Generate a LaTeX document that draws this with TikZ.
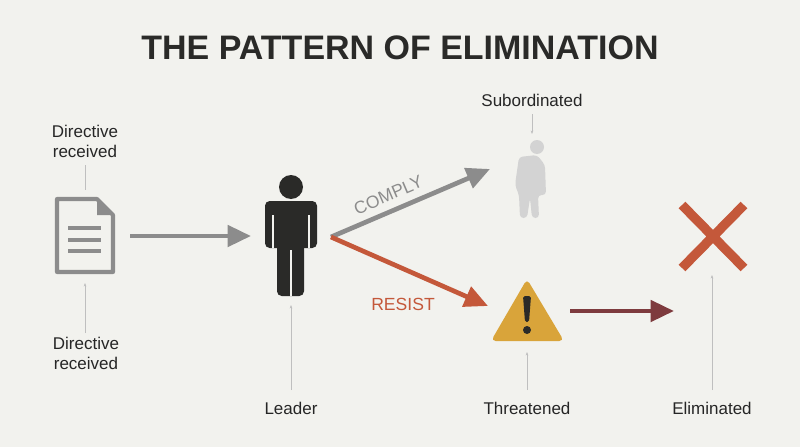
\documentclass[tikz,border=0pt]{standalone}
\usepackage{fontspec}
\setmainfont{Liberation Sans}
\usetikzlibrary{arrows.meta,positioning}
\definecolor{bg}{HTML}{F2F2EE}
\definecolor{arrowgray}{HTML}{8C8C8C}
\definecolor{resist}{HTML}{C4583A}
\definecolor{darkred}{HTML}{7E3B3E}
\definecolor{warn}{HTML}{D9A43A}
\definecolor{figure}{HTML}{2A2A28}
\definecolor{faded}{HTML}{D3D3D3}
\begin{document}
\begin{tikzpicture}[
    x=0.03cm, y=-0.03cm,
    > = {Triangle[length=20pt,width=18pt]},
    label/.style={font=\fontsize{14.5}{17}\selectfont, align=center, text=black!85},
    pointer/.style={draw=black!25, line width=0.5pt},
    flow/.style={line width=4pt, ->}
]
    \fill[bg] (0,0) rectangle (800,447);
    \node[font=\fontsize{29}{32}\selectfont\bfseries, text=figure] (title) at (400,48) {THE PATTERN OF ELIMINATION};

    % document icon
    \coordinate (doc) at (85,236);
    \draw[arrowgray, line width=3.5pt, line join=round]
        (57,199) -- (97,199) -- (113,215) -- (113,272) -- (57,272) -- cycle;
    \fill[arrowgray] (97,199) -- (113,215) -- (97,215) -- cycle;
    \foreach \y in {228,240,251}
        \draw[arrowgray, line width=3.5pt] (68,\y) -- (101,\y);
    \node[label] (dirtop) at (85,141) {Directive\\received};
    \node[label] (dirbot) at (86,353) {Directive\\received};
    \coordinate (dtA) at (85,165); \coordinate (dtB) at (85,190);
    \coordinate (dbA) at (85,333); \coordinate (dbB) at (85,283);
    \draw[pointer] (dtA) -- (dtB);
    \draw[pointer, -{Stealth[length=3pt]}] (dbA) -- (dbB);

    % leader
    \fill[figure] (291,187) circle (12);
    \fill[figure, rounded corners=4pt] (265,201) rectangle (317,248);
    \fill[figure, rounded corners=4pt] (277,230) rectangle (304,296);
    \draw[bg, line width=1pt] (273,215) -- (273,248) (309,215) -- (309,248) (291,250) -- (291,296);
    \coordinate (leader) at (291,240);
    \node[label] (leaderlbl) at (291,408) {Leader};
    \coordinate (lA) at (291,390); \coordinate (lB) at (291,305);
    \draw[pointer, -{Stealth[length=3pt]}] (lA) -- (lB);

    % subordinated
    \fill[faded] (537,147) circle (7);
    \fill[faded, rounded corners=3pt] (519,157) -- (537,155) -- (545,165) -- (546,195) -- (538,195)
        -- (539,218) -- (532,218) -- (530,198) -- (527,218) -- (520,218) -- (519,195) -- (515,185) -- cycle;
    \node[label] (sublbl) at (532,100) {Subordinated};
    \coordinate (sA) at (532,114); \coordinate (sB) at (532,134);
    \draw[pointer, -{Stealth[length=3pt]}] (sA) -- (sB);

    % threatened
    \fill[warn, rounded corners=4pt] (527,279) -- (564,341) -- (491,341) -- cycle;
    \fill[figure, rounded corners=1.5pt] (523,296) -- (531,296) -- (529,322) -- (525,322) -- cycle;
    \fill[figure] (527,330) circle (4);
    \node[label] (thrlbl) at (527,408) {Threatened};
    \coordinate (tA) at (527,390); \coordinate (tB) at (527,352);
    \draw[pointer, -{Stealth[length=3pt]}] (tA) -- (tB);

    % eliminated
    \draw[resist, line width=8pt] (682,205) -- (744,268) (744,205) -- (682,268);
    \node[label] (elimlbl) at (712,408) {Eliminated};
    \coordinate (eA) at (712,390); \coordinate (eB) at (712,275);
    \draw[pointer, -{Stealth[length=3pt]}] (eA) -- (eB);

    % flows
    \coordinate (docR) at (130,236); \coordinate (leadL) at (251,236);
    \coordinate (leadR) at (331,237); \coordinate (subL) at (490,169);
    \coordinate (thrL) at (488,306);
    \coordinate (thrR) at (570,311); \coordinate (elimL) at (674,311);
    \draw[flow, arrowgray] (docR) -- (leadL);
    \draw[flow, arrowgray] (leadR) -- node[sloped, above=3pt, text=arrowgray, font=\fontsize{15}{17}\selectfont, pos=0.4] {COMPLY} (subL);
    \draw[flow, resist] (leadR) -- (thrL);
    \node[text=resist, font=\fontsize{15}{17}\selectfont] (resistlbl) at (403,304) {RESIST};
    \draw[flow, darkred] (thrR) -- (elimL);
\end{tikzpicture}
\end{document}
